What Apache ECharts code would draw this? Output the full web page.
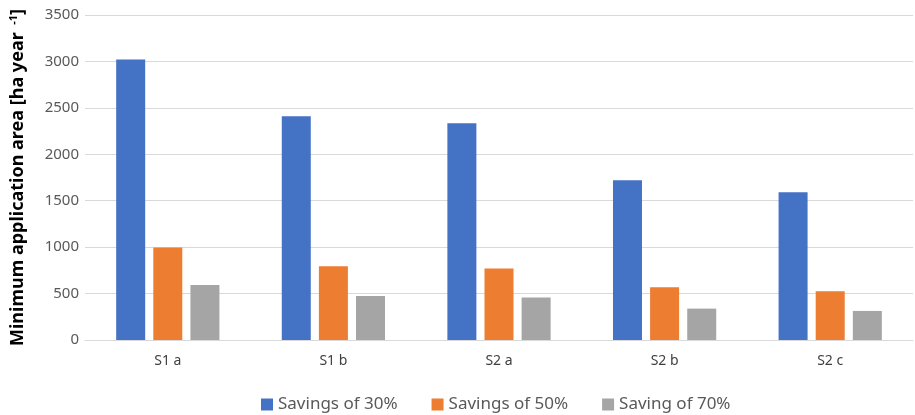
<!DOCTYPE html>
<html>
<head>
<meta charset="utf-8">
<script src="https://cdn.jsdelivr.net/npm/echarts@6/dist/echarts.min.js"></script>
<style>
html,body{margin:0;padding:0;background:#fff;}
#chart{width:915px;height:415px;}
</style>
</head>
<body>
<div id="chart"></div>
<script>
const categories = ['S1 a', 'S1 b', 'S2 a', 'S2 b', 'S2 c'];
const savings30 = [3020, 2410, 2335, 1720, 1590];
const savings50 = [995, 795, 770, 567, 525];
const savings70 = [593, 474, 459, 338, 313];
const seriesNames = ['Savings of 30%', 'Savings of 50%', 'Saving of 70%'];
const colors = ['#4472C4', '#ED7D31', '#A5A5A5'];
const yTicks = { min: 0, max: 3500, interval: 500 };

const FONT = 'Noto Sans';
const chart = echarts.init(document.getElementById('chart'));
const values = [savings30, savings50, savings70];
chart.setOption({
  animation: false,
  color: colors,
  textStyle: { fontFamily: FONT },
  grid: { left: 85, right: 2, top: 15, bottom: 75, containLabel: false, outerBoundsMode: 'none' },
  legend: {
    left: 256, top: 391,
    itemWidth: 12, itemHeight: 12, itemGap: 34,
    icon: 'rect',
    textStyle: { fontFamily: FONT, fontSize: 17, color: '#595959' },
    data: seriesNames
  },
  xAxis: {
    type: 'category',
    data: categories,
    axisLine: { lineStyle: { color: '#d9d9d9', width: 1 } },
    axisTick: { show: false },
    axisLabel: { fontFamily: FONT, fontSize: 14, color: '#404040', margin: 14 }
  },
  yAxis: {
    type: 'value',
    min: yTicks.min, max: yTicks.max, interval: yTicks.interval,
    name: 'Minimum application area [ha year {sup| -1}]',
    nameLocation: 'middle',
    nameGap: 58,
    nameRotate: 90,
    nameTextStyle: {
      fontFamily: FONT, fontSize: 18, fontWeight: 'bold', color: '#000',
      rich: { sup: { fontFamily: FONT, fontSize: 11, fontWeight: 'bold', color: '#000', verticalAlign: 'top', padding: [0, 0, 8, 0] } }
    },
    axisLine: { show: false },
    axisTick: { show: false },
    splitLine: { lineStyle: { color: '#d9d9d9', width: 1 } },
    axisLabel: { fontFamily: FONT, fontSize: 15, color: '#595959', margin: 6, formatter: v => String(v) }
  },
  series: values.map((v, i) => ({
    name: seriesNames[i],
    type: 'bar',
    data: v,
    barWidth: 29,
    barGap: '28%',
    itemStyle: { color: colors[i] }
  }))
});
</script>
</body>
</html>
